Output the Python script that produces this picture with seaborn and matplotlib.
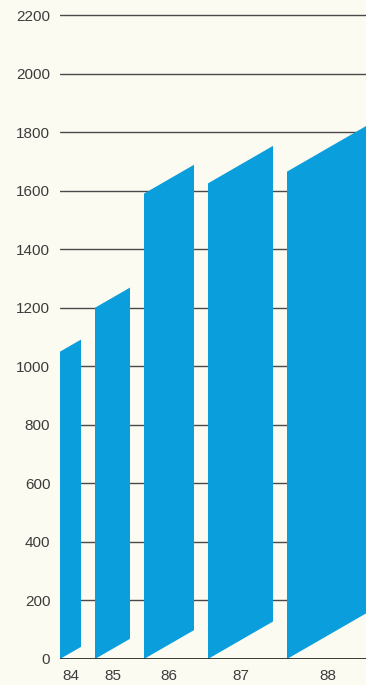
import matplotlib
matplotlib.use('Agg')
import matplotlib.pyplot as plt
import seaborn as sns

# ---- data ----
years = ['84', '85', '86', '87', '88']
values = [1050, 1200, 1590, 1625, 1665]
bar_weights = [21, 35, 50, 65, 82]
yticks = [0, 200, 400, 600, 800, 1000, 1200, 1400, 1600, 1800, 2000, 2200]

BG = '#FCFBF1'
BAR = '#0A9EDD'
GRID = '#4a4a4a'
TXT = '#3c3c3c'

sns.set_style('white', {'axes.facecolor': BG, 'figure.facecolor': BG})
plt.rcParams['font.family'] = ['Liberation Sans', 'DejaVu Sans']

fig = plt.figure(figsize=(3.66, 6.85), dpi=100, facecolor=BG)
ax = fig.add_axes([60 / 366, 26 / 685, 306 / 366, 658.6 / 685])
ax.set_facecolor(BG)

gap = 14
shear = 1.97  # rise per x unit
left = 0
centers = []
for v, w in zip(values, bar_weights):
    xs = [left, left + w, left + w, left]
    ys = [0, shear * w, v + shear * w, v]
    ax.fill(xs, ys, color=BAR, lw=0, zorder=3)
    centers.append(left + w / 2)
    left += w + gap

for t in yticks[1:]:
    ax.axhline(t, color=GRID, lw=1.0, zorder=1)
ax.axhline(0, color='#2a2a2a', lw=1.3, zorder=4)

ax.set_xlim(0, 306)
ax.set_ylim(0, 2250)
ax.set_yticks(yticks)
ax.set_yticklabels([str(t) for t in yticks])
ax.set_xticks(centers)
ax.set_xticklabels(years)
ax.tick_params(axis='both', length=0, labelsize=11, colors=TXT)
ax.tick_params(axis='y', pad=7)
ax.tick_params(axis='x', pad=7)
sns.despine(ax=ax, left=True, bottom=True, top=True, right=True)

fig.savefig('out.png', dpi=100, facecolor=BG)
